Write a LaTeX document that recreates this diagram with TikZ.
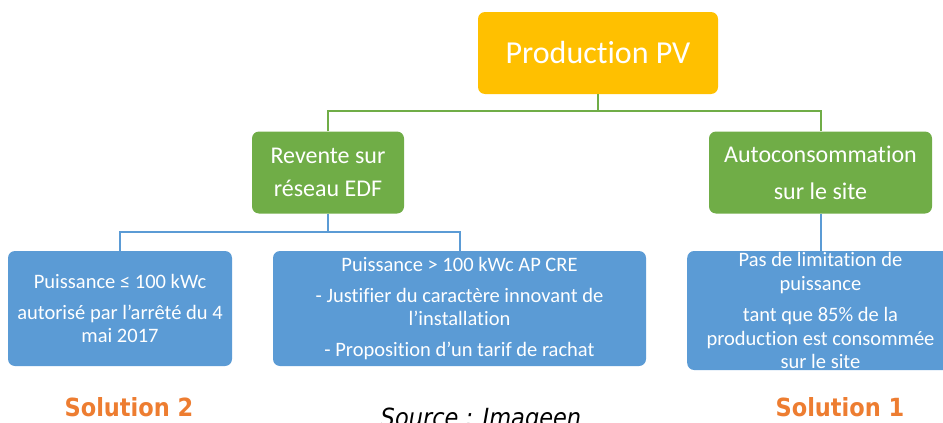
\documentclass[tikz,border=0pt]{standalone}
\usepackage{fontspec}
\setmainfont{Carlito}[Ligatures=NoCommon]
\newfontfamily\capfont{DejaVu Sans Condensed}
\usetikzlibrary{positioning}
\definecolor{pvyellow}{HTML}{FFC000}
\definecolor{pvgreen}{HTML}{70AD47}
\definecolor{pvblue}{HTML}{5B9BD5}
\definecolor{pvorange}{HTML}{ED7D31}
\tikzset{
  box/.style={rounded corners=7pt, text=white, align=center, inner sep=0pt},
  topbox/.style={box, fill=pvyellow, font=\fontsize{32}{36}\selectfont},
  midbox/.style={box, fill=pvgreen},
  lowbox/.style={box, fill=pvblue, font=\fontsize{20.5}{23.5}\selectfont},
  glink/.style={draw=pvgreen, line width=2pt},
  blink/.style={draw=pvblue, line width=2pt},
  soltext/.style={text=pvorange, font=\capfont\bfseries\fontsize{25}{30}\selectfont},
}
\begin{document}
\begin{tikzpicture}[x=1pt,y=-1pt]
\useasboundingbox (0,0) rectangle (943,423);
\clip (0,0) rectangle (943,423);

% level 0
\node[topbox, minimum width=240pt, minimum height=82pt] (pv) at (598,53) {Production PV};

% level 1
\node[midbox, minimum width=152pt, minimum height=82pt, font=\fontsize{24}{33}\selectfont] (rev) at (328,172.5) {Revente sur\\réseau EDF};
\node[midbox, minimum width=223pt, minimum height=82pt, font=\fontsize{24}{37}\selectfont] (auto) at (820.5,172.5) {Autoconsommation\\sur le site};

% level 2
\node[lowbox, minimum width=224pt, minimum height=115pt] (p1) at (120,308.5)
  {Puissance ≤ 100 kWc\\[7pt]autorisé par l’arrêté du 4\\mai 2017};
\node[lowbox, minimum width=373pt, minimum height=115pt] (p2) at (459.5,308.5)
  {Puissance > 100 kWc AP CRE\\[7pt]- Justifier du caractère innovant de\\l’installation\\[7pt]- Proposition d’un tarif de rachat};
\node[lowbox, minimum width=270pt, minimum height=119pt, anchor=west] (p3) at (687,310.5) {};
\node[lowbox, anchor=center] (p3t) at (820.5,310.5)
  {Pas de limitation de\\puissance\\[8pt]tant que 85\% de la\\production est consommée\\sur le site};

% connectors
\coordinate (gj) at (598,111);
\draw[glink] (pv.south) -- (gj);
\draw[glink] (rev.north) |- (gj) -| (auto.north);
\coordinate (bj) at (328,232);
\draw[blink] (rev.south) -- (bj);
\draw[blink] (p1.north) |- (bj) -| (p2.north);
\draw[blink] (auto.south) -- (auto.south |- p3.north);

% captions
\node[soltext] (s2) at (129,407) {Solution 2};
\node[soltext] (s1) at (840,407) {Solution 1};
\node[font=\capfont\itshape\fontsize{25}{28}\selectfont] (src) at (481,420) {Source : Imageen};
\end{tikzpicture}
\end{document}
